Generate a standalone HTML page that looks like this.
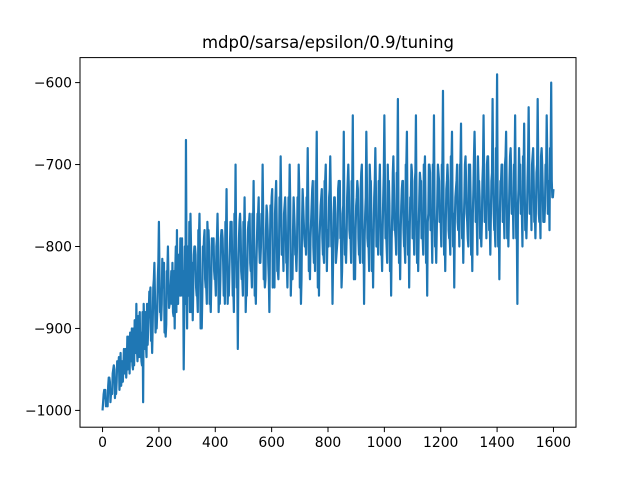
<!DOCTYPE html>
<html><head><meta charset="utf-8"><style>
body{margin:0;background:#fff;}
svg text{font-family:"DejaVu Sans","Liberation Sans",sans-serif;fill:#000;}
</style></head><body>
<svg id="chart" width="640" height="480" xmlns="http://www.w3.org/2000/svg">
<rect width="640" height="480" fill="#fff"/>
<text x="328" y="48" text-anchor="middle" font-size="16.5">mdp0/sarsa/epsilon/0.9/tuning</text>
<g id="plot"></g>
</svg>
<script>
const step = 8;
// episodes 8k
const rewards = [
-1000,-985,-990,-960,-975,-945,-980,-950,-930,-965,
-940,-910,-955,-900,-945,-870,-935,-905,-990,-880,
-920,-860,-930,-820,-900,-770,-890,-840,-910,-800,
-870,-820,-900,-780,-860,-810,-950,-670,-850,-760,
-890,-800,-860,-760,-900,-790,-850,-780,-880,-800,
-840,-760,-870,-780,-830,-730,-860,-790,-850,-700,
-925,-760,-840,-740,-860,-770,-830,-720,-870,-760,
-820,-700,-850,-760,-880,-740,-810,-720,-840,-690,
-800,-740,-850,-700,-810,-760,-830,-700,-870,-750,
-790,-680,-840,-730,-800,-660,-860,-740,-810,-700,
-780,-690,-870,-740,-800,-720,-850,-660,-820,-700,
-790,-640,-840,-720,-810,-700,-870,-660,-800,-720,
-850,-680,-780,-700,-830,-640,-800,-720,-860,-690,
-790,-620,-840,-720,-800,-660,-850,-700,-780,-640,
-830,-720,-790,-690,-860,-700,-780,-640,-820,-710,
-770,-610,-830,-700,-790,-660,-850,-720,-760,-650,
-820,-690,-790,-700,-830,-660,-770,-720,-800,-640,
-750,-690,-810,-620,-780,-590,-840,-700,-760,-660,
-800,-680,-750,-640,-870,-710,-760,-650,-790,-630,
-740,-680,-790,-620,-760,-700,-770,-640,-720,-600,
-730];
// episodes 8k+2
const rewardsQ1 = [
-990,-975,-995,-965,-980,-950,-965,-935,-970,-945,
-925,-950,-905,-945,-890,-925,-895,-940,-870,-920,
-900,-850,-895,-860,-880,-830,-870,-820,-895,-840,
-850,-880,-830,-870,-840,-790,-880,-820,-860,-800,
-850,-810,-880,-820,-860,-780,-870,-800,-840,-790,
-860,-800,-840,-790,-870,-810,-830,-770,-880,-800,
-830,-780,-860,-800,-820,-760,-850,-790,-820,-740,
-800,-760,-840,-780,-800,-730,-850,-770,-810,-750,
-830,-770,-800,-750,-840,-780,-800,-730,-840,-770,
-810,-750,-790,-720,-830,-770,-790,-730,-820,-760,
-800,-740,-820,-760,-790,-720,-830,-770,-790,-730,
-820,-760,-780,-730,-820,-750,-790,-720,-830,-760,
-790,-730,-810,-760,-780,-720,-820,-750,-790,-730,
-810,-750,-780,-720,-820,-760,-780,-710,-810,-750,
-780,-720,-810,-750,-770,-710,-820,-750,-780,-720,
-800,-740,-770,-720,-810,-750,-770,-700,-800,-740,
-770,-720,-800,-740,-760,-700,-810,-740,-770,-710,
-790,-730,-760,-710,-800,-740,-760,-700,-790,-730,
-760,-710,-790,-730,-750,-700,-800,-730,-760,-700,
-780,-720,-750,-700,-790,-730,-750,-690,-780,-720];
// episodes 8k+4
const rewardsMid = [
-980,-995,-970,-990,-955,-985,-940,-975,-960,-925,
-960,-935,-915,-950,-890,-940,-880,-945,-900,-935,
-880,-915,-850,-905,-840,-880,-815,-905,-830,-875,
-830,-885,-800,-870,-790,-860,-800,-900,-770,-880,
-810,-850,-780,-900,-800,-840,-770,-870,-790,-830,
-800,-880,-790,-820,-770,-870,-800,-820,-760,-850,
-790,-830,-770,-880,-780,-820,-760,-860,-790,-800,
-760,-840,-780,-820,-750,-850,-760,-830,-740,-810,
-760,-820,-740,-860,-780,-810,-740,-850,-770,-790,
-740,-830,-770,-800,-720,-850,-770,-790,-720,-830,
-740,-800,-760,-820,-730,-790,-760,-810,-740,-780,
-720,-840,-750,-790,-730,-820,-760,-790,-700,-830,
-740,-800,-720,-810,-740,-790,-700,-830,-760,-780,
-710,-820,-750,-780,-700,-810,-740,-790,-720,-820,
-740,-790,-700,-820,-760,-780,-700,-800,-740,-770,
-700,-810,-730,-780,-690,-800,-740,-770,-700,-790,
-740,-760,-700,-810,-730,-770,-690,-790,-720,-770,
-700,-780,-720,-760,-680,-800,-720,-770,-700,-790,
-720,-760,-700,-790,-730,-760,-690,-780,-720,-760,
-700,-770,-710,-760,-690,-770,-700,-760,-680,-740];
// episodes 8k+6
const rewardsQ3 = [
-975,-990,-960,-980,-950,-970,-945,-960,-940,-955,
-945,-910,-940,-900,-930,-885,-935,-880,-925,-870,
-855,-900,-840,-890,-820,-880,-850,-900,-830,-870,
-870,-830,-880,-810,-860,-830,-870,-800,-880,-820,
-800,-860,-790,-870,-810,-850,-790,-860,-800,-840,
-790,-850,-780,-860,-790,-840,-770,-860,-790,-830,
-770,-840,-790,-850,-770,-830,-780,-850,-760,-820,
-770,-830,-750,-840,-770,-820,-740,-830,-760,-810,
-750,-820,-760,-830,-740,-810,-760,-820,-730,-800,
-740,-810,-750,-820,-730,-800,-750,-810,-720,-790,
-730,-800,-740,-810,-720,-790,-750,-800,-720,-790,
-720,-800,-740,-810,-710,-780,-740,-800,-720,-780,
-720,-790,-730,-800,-710,-780,-740,-790,-710,-780,
-710,-790,-730,-800,-700,-770,-740,-790,-710,-770,
-710,-780,-720,-790,-700,-770,-730,-790,-700,-770,
-700,-780,-720,-790,-700,-760,-730,-780,-700,-770,
-700,-770,-720,-780,-690,-760,-720,-780,-700,-760,
-690,-770,-710,-780,-690,-760,-720,-770,-690,-760,
-690,-760,-710,-780,-680,-750,-710,-770,-690,-750,
-690,-760,-700,-770,-680,-750,-710,-760,-690,-740];
const xTicks = [0,200,400,600,800,1000,1200,1400,1600];
const yTicks = [-1000,-900,-800,-700,-600];

const L=80,R=576,T=57.6,B=427.2;
const xmin=-80,xmax=1680,ymin=-1020.5,ymax=-569.5;
const xs=v=>L+(v-xmin)/(xmax-xmin)*(R-L);
const ys=v=>B-(v-ymin)/(ymax-ymin)*(B-T);
const NS="http://www.w3.org/2000/svg";
const g=document.getElementById('plot');
function mk(t,a){const e=document.createElementNS(NS,t);for(const k in a)e.setAttribute(k,a[k]);g.appendChild(e);return e;}

const pts=[];
rewards.forEach((v,i)=>{
  pts.push([i*step,v]);
  if(i<rewardsQ1.length) pts.push([i*step+2,rewardsQ1[i]]);
  if(i<rewardsMid.length) pts.push([i*step+4,rewardsMid[i]]);
  if(i<rewardsQ3.length) pts.push([i*step+6,rewardsQ3[i]]);
});
let d=pts.map((p,i)=>(i?'L':'M')+xs(p[0]).toFixed(2)+' '+ys(p[1]).toFixed(2)).join(' ');
const line=mk('path',{d:d,fill:'none',stroke:'#1f77b4','stroke-width':2.2,'stroke-linejoin':'round'});



const frame=mk('rect',{x:L,y:T,width:R-L,height:B-T,fill:'none',stroke:'#000','stroke-width':1});



xTicks.forEach(v=>{
  const x=xs(v);
  const tk=mk('line',{x1:x,x2:x,y1:B,y2:B+4.9,stroke:'#000','stroke-width':1});
  
  
  const tx=mk('text',{x:x,y:B+20,'text-anchor':'middle','font-size':13.9});
  tx.textContent=String(v);
  
  
});
yTicks.forEach(v=>{
  const y=ys(v);
  const tk=mk('line',{x1:L-4.9,x2:L,y1:y,y2:y,stroke:'#000','stroke-width':1});
  
  
  const tx=mk('text',{x:L-8,y:y+5,'text-anchor':'end','font-size':13.9});
  tx.textContent=String(v).replace('-','\u2212');
  
  
});
</script>
</body></html>
